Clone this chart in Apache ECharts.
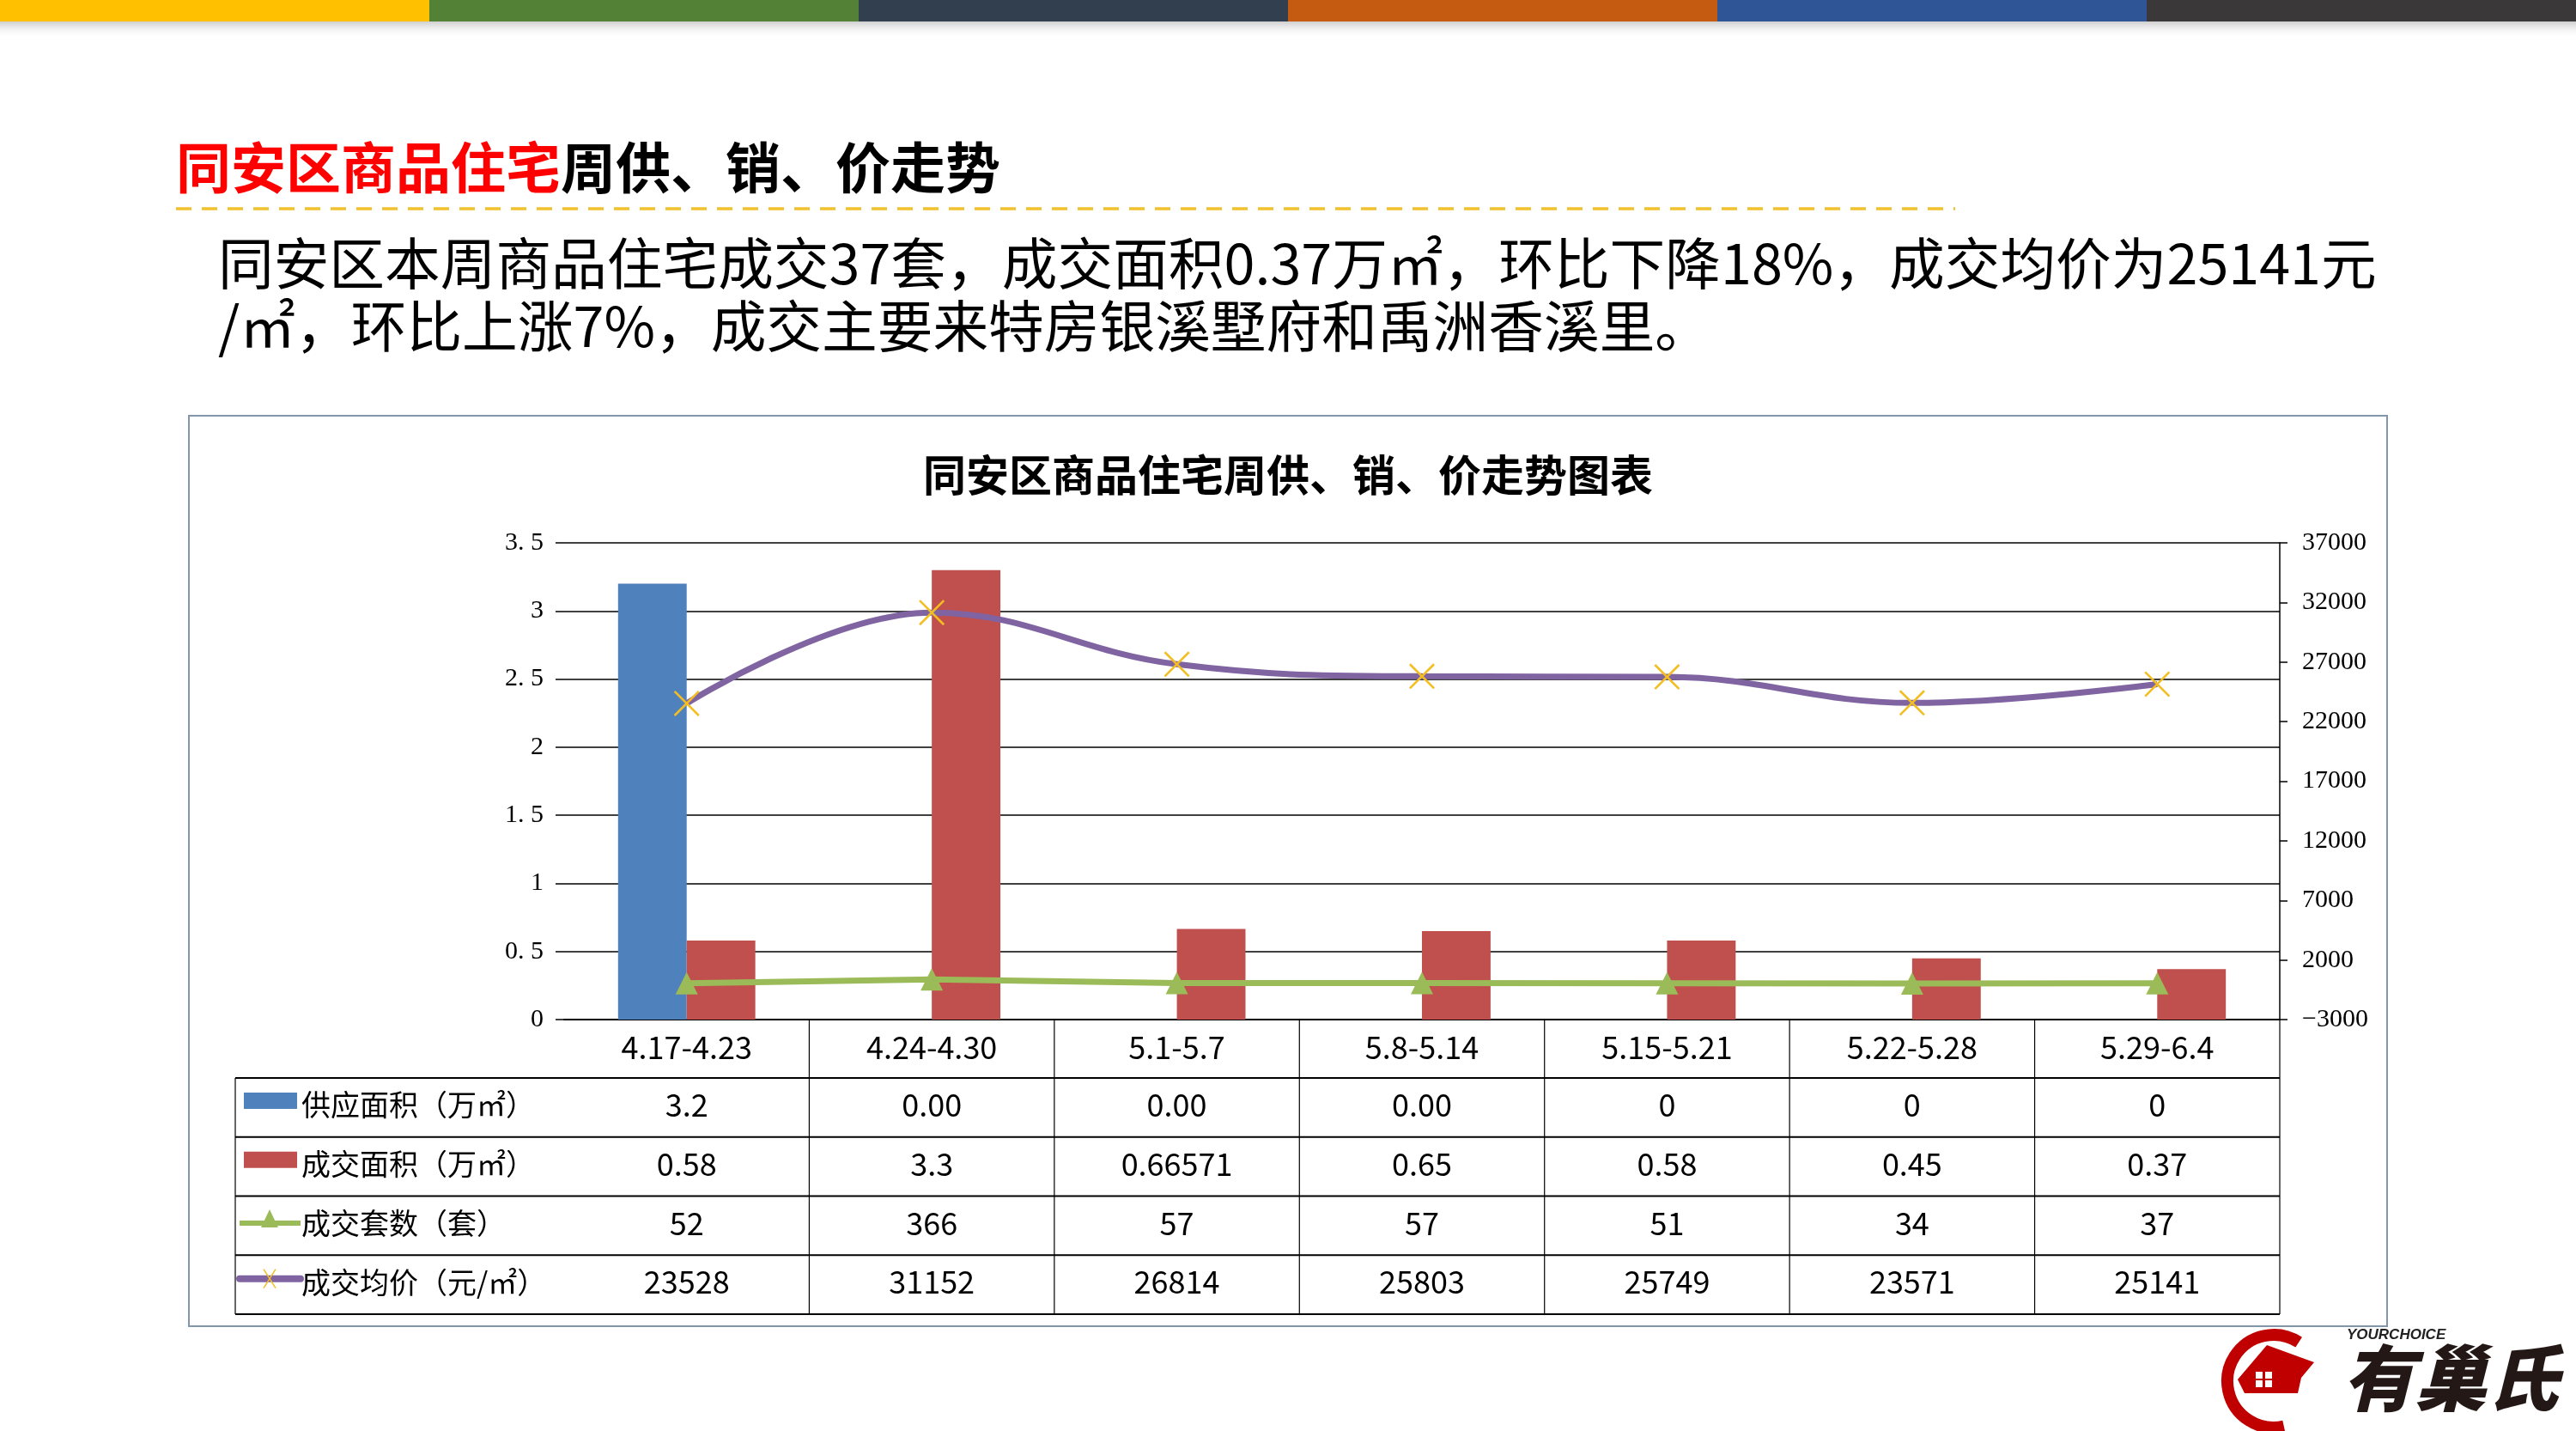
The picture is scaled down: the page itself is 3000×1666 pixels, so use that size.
<!DOCTYPE html>
<html><head><meta charset="utf-8">
<script src="https://cdn.jsdelivr.net/npm/echarts@6/dist/echarts.min.js"></script>
<style>html,body{margin:0;padding:0;background:#fff}#c{width:3000px;height:1666px}</style>
</head><body><div id="c"></div>
<script>
// ---------- data ----------
const categories = ['4.17-4.23','4.24-4.30','5.1-5.7','5.8-5.14','5.15-5.21','5.22-5.28','5.29-6.4'];
const supplyArea = [3.2, 0, 0, 0, 0, 0, 0];
const dealArea = [0.58, 3.3, 0.66571, 0.65, 0.58, 0.45, 0.37];
const dealUnits = [52, 366, 57, 57, 51, 34, 37];
const avgPrice = [23528, 31152, 26814, 25803, 25749, 23571, 25141];
const supplyText = ['3.2','0.00','0.00','0.00','0','0','0'];
const dealAreaText = ['0.58','3.3','0.66571','0.65','0.58','0.45','0.37'];
const seriesNames = ['供应面积（万㎡）','成交面积（万㎡）','成交套数（套）','成交均价（元/㎡）'];
const leftAxisRange = [0, 3.5, 0.5];
const rightAxisRange = [-3000, 37000, 5000];
const pageTitleRed = '同安区商品住宅';
const pageTitleBlack = '周供、销、价走势';
const summaryLines = ['同安区本周商品住宅成交37套，成交面积0.37万㎡，环比下降18%，成交均价为25141元', '/㎡，环比上涨7%，成交主要来特房银溪墅府和禹洲香溪里。'];
const chartTitle = '同安区商品住宅周供、销、价走势图表';
const topBarColors = ['#FFC000','#538135','#323F4F','#C55A11','#2F5597','#3A3838'];

// ---------- styles ----------
const C = {blue:'#4F81BD', red:'#C0504D', green:'#9BBB59', purple:'#8064A2', mark:'#F2BE22'};
const sans = '"Noto Sans CJK SC","Noto Sans",sans-serif';
const serif = '"Liberation Serif","DejaVu Serif",serif';
const xMark = 'path://M0,0.6L0.6,0L10,9.4L9.4,10Z M9.4,0L10,0.6L0.6,10L0,9.4Z';

const chart = echarts.init(document.getElementById('c'), null, {width:3000, height:1666});
chart.setOption({
  animation:false,
  backgroundColor:'#fff',
  grid:{left:657, right:345, top:632, bottom:479, containLabel:false, outerBoundsMode:'none'},
  xAxis:{type:'category', data:categories,
    axisLine:{lineStyle:{color:'#000', width:2}}, axisTick:{show:false},
    axisLabel:{fontSize:36, color:'#000', fontFamily:sans, margin:14}},
  yAxis:[
    {type:'value', min:leftAxisRange[0], max:leftAxisRange[1], interval:leftAxisRange[2],
     axisLine:{show:false},
     axisTick:{show:true, length:10, lineStyle:{color:'#000', width:1.5}},
     splitLine:{lineStyle:{color:'#000', width:1.5}},
     axisLabel:{formatter:v=>String(v).replace('.', '. '), fontFamily:serif, fontSize:30, color:'#000', margin:24}},
    {type:'value', position:'right', min:rightAxisRange[0], max:rightAxisRange[1], interval:rightAxisRange[2],
     axisLine:{show:true, lineStyle:{color:'#000', width:1.5}},
     axisTick:{show:true, length:9, lineStyle:{color:'#000', width:1.5}},
     splitLine:{show:false},
     axisLabel:{formatter:v=> v<0 ? '\u2212'+(-v) : String(v), fontFamily:serif, fontSize:30, color:'#000', margin:26}}
  ],
  series:[
    {name:seriesNames[0], type:'bar', data:supplyArea, itemStyle:{color:C.blue}, barGap:'0%', barCategoryGap:'44%'},
    {name:seriesNames[1], type:'bar', data:dealArea, itemStyle:{color:C.red}},
    {name:seriesNames[2], type:'line', yAxisIndex:1, data:dealUnits, symbol:'triangle', symbolSize:26,
     itemStyle:{color:C.green}, lineStyle:{color:C.green, width:7}, z:3},
    {name:seriesNames[3], type:'line', yAxisIndex:1, data:avgPrice, smooth:0.4, symbol:xMark, symbolSize:30,
     itemStyle:{color:C.mark}, lineStyle:{color:C.purple, width:7}, z:4}
  ]
});

// ---------- graphics positioned from the chart's scales ----------
const xs = categories.map(c => chart.convertToPixel({xAxisIndex:0}, c));
const band = xs[1] - xs[0];
const axisY = chart.convertToPixel({yAxisIndex:0}, 0);
const tableLeft = 274;
const tableRight = xs[xs.length-1] + band/2;
const headerH = 68;
const rowH = 68.75;
const rowTops = [0,1,2,3,4].map(i => axisY + headerH + i*rowH);
const g = [];

// top colour bars
topBarColors.forEach((col,i) => {
  g.push({type:'rect', shape:{x:i*500, y:0, width:500, height:25}, style:{fill:col}});
});
g.push({type:'rect', shape:{x:0, y:25, width:3000, height:20},
  style:{fill:new echarts.graphic.LinearGradient(0,0,0,1,[{offset:0,color:'#CFCFCF'},{offset:1,color:'rgba(255,255,255,0)'}])}});

// page title
g.push({type:'text', style:{x:205, y:195, text:'{r|'+pageTitleRed+'}{b|'+pageTitleBlack+'}',
  verticalAlign:'middle', font:'bold 64px '+sans,
  rich:{r:{fill:'#FF0000', fontSize:64, fontWeight:'bold', fontFamily:sans}, b:{fill:'#000', fontSize:64, fontWeight:'bold', fontFamily:sans}}}});
g.push({type:'line', shape:{x1:205, y1:243, x2:2277, y2:243}, style:{stroke:'#F2C12E', lineWidth:3.5, lineDash:[18,12]}});

// summary text
summaryLines.forEach((t,i) => {
  g.push({type:'text', style:{x:254, y:306 + i*73, text:t, verticalAlign:'middle', fill:'#000', font:'normal 64.7px '+sans}});
});

// chart frame and title
g.push({type:'rect', shape:{x:220, y:484, width:2560, height:1060}, style:{fill:'none', stroke:'#8296AB', lineWidth:2}, z:-1});
g.push({type:'text', style:{x:1500, y:553, text:chartTitle, align:'center', verticalAlign:'middle', fill:'#000', font:'bold 50px '+sans}});

// data table lines
rowTops.forEach(y => g.push({type:'line', shape:{x1:tableLeft, y1:y, x2:tableRight, y2:y}, style:{stroke:'#000', lineWidth:2}}));
g.push({type:'line', shape:{x1:tableLeft, y1:rowTops[0], x2:tableLeft, y2:rowTops[4]}, style:{stroke:'#000', lineWidth:1.2}});
xs.forEach(x => g.push({type:'line', shape:{x1:x+band/2, y1:axisY, x2:x+band/2, y2:rowTops[4]}, style:{stroke:'#000', lineWidth:1.2}}));

// table row labels and legend keys
const rowTexts = [supplyText, dealAreaText, dealUnits.map(String), avgPrice.map(String)];
rowTexts.forEach((arr, r) => {
  const cy = rowTops[r] + rowH/2 - 3;
  arr.forEach((t,i) => g.push({type:'text', style:{x:xs[i], y:cy, text:t, align:'center', verticalAlign:'middle', fill:'#000', font:'normal 36px '+sans}}));
  g.push({type:'text', style:{x:351, y:cy, text:seriesNames[r], verticalAlign:'middle', fill:'#000', font:'normal 34px '+sans}});
});
// keys
g.push({type:'rect', shape:{x:284, y:rowTops[0]+17, width:62, height:19}, style:{fill:C.blue}});
g.push({type:'rect', shape:{x:284, y:rowTops[1]+17, width:62, height:19}, style:{fill:C.red}});
{
  const cy = rowTops[2] + rowH/2 - 3;
  g.push({type:'line', shape:{x1:279, y1:cy, x2:350, y2:cy}, style:{stroke:C.green, lineWidth:6}});
  g.push({type:'polygon', shape:{points:[[314,cy-16],[304,cy+5],[324,cy+5]]}, style:{fill:C.green}});
}
{
  const cy = rowTops[3] + rowH/2 - 7;
  g.push({type:'line', shape:{x1:279, y1:cy, x2:350, y2:cy}, style:{stroke:C.purple, lineWidth:8, lineCap:'round'}});
  g.push({type:'line', shape:{x1:307, y1:cy-11, x2:321, y2:cy+11}, style:{stroke:C.mark, lineWidth:1.5}});
  g.push({type:'line', shape:{x1:321, y1:cy-11, x2:307, y2:cy+11}, style:{stroke:C.mark, lineWidth:1.5}});
}

// logo
g.push({type:'arc', shape:{cx:2648, cy:1608, r:54, startAngle:-1.0, endAngle:1.35, clockwise:false}, style:{stroke:'#C00000', lineWidth:14, fill:'none'}});
g.push({type:'polygon', shape:{points:[[2606,1606],[2640,1566],[2695,1586],[2680,1604],[2676,1622],[2614,1622]]}, style:{fill:'#C00000'}});
[[2627,1597],[2638,1597],[2627,1607],[2638,1607]].forEach(p => g.push({type:'rect', shape:{x:p[0], y:p[1], width:8, height:8}, style:{fill:'#fff'}}));
g.push({type:'text', style:{x:2733, y:1554, text:'YOURCHOICE', verticalAlign:'middle', fill:'#222', font:'italic bold 17px "Liberation Sans",sans-serif'}});
g.push({type:'text', style:{x:2728, y:1604, text:'有巢氏', verticalAlign:'middle', fill:'#231815', font:'italic 900 84px '+sans}});

chart.setOption({graphic:{elements:g}});
</script>
</body></html>
